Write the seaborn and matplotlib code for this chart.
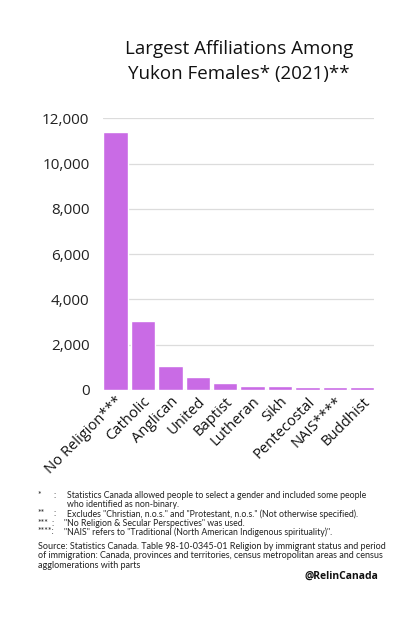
import numpy as np
import pandas as pd
import seaborn as sns
import matplotlib.pyplot as plt
from matplotlib.ticker import FuncFormatter

# data
religions = ["No Religion***", "Catholic", "Anglican", "United", "Baptist",
             "Lutheran", "Sikh", "Pentecostal", "NAIS****", "Buddhist"]
females = [11380, 3045, 1075, 555, 320, 190, 185, 145, 145, 140]

df = pd.DataFrame({"Religion": religions, "Females": females})

sns.set_style("white")
plt.rcParams['font.family'] = ['Open Sans', 'DejaVu Sans']

fig = plt.figure(figsize=(4.15, 6.2), dpi=100)
ax = fig.add_axes([0.249, 0.371, 0.653, 0.438])

sns.barplot(data=df, x="Religion", y="Females", color="#C96BE5",
            width=0.89, saturation=1, ax=ax, zorder=3)

ax.set_ylim(0, 12000)
ax.set_xlim(-0.445, 9.445)
ax.set_yticks(range(0, 12001, 2000))
ax.yaxis.set_major_formatter(FuncFormatter(lambda v, p: f"{int(v):,}"))
ax.grid(axis="y", color="#dcdcdc", linewidth=0.9, zorder=0)
ax.set_axisbelow(True)
for s in ax.spines.values():
    s.set_visible(False)
ax.tick_params(axis="y", length=0, pad=10, labelsize=11, labelcolor="#222222")
ax.tick_params(axis="x", length=0, pad=3, labelsize=10.6, labelcolor="#111111")
plt.setp(ax.get_xticklabels(), rotation=45, ha="right", rotation_mode="anchor")
ax.set_xlabel("")
ax.set_ylabel("")

# title
fig.text(0.575, 1 - 61 / 620, "Largest Affiliations Among\nYukon Females* (2021)**",
         ha="center", va="center", fontsize=13.5, color="#111111",
         linespacing=1.5)

# footnotes
fn = dict(fontsize=6.3, color="#222222", family=["Lato", "DejaVu Sans"], va="center")
marks = ["*", "**", "***", "****:"]
notes = [
    "Statistics Canada allowed people to select a gender and included some people\nwho identified as non-binary.",
    "Excludes \"Christian, n.o.s.\" and \"Protestant, n.o.s.\" (Not otherwise specified).",
    "\"No Religion & Secular Perspectives\" was used.",
    "\"NAIS\" refers to \"Traditional (North American Indigenous spirituality)\".",
]
ys = [496, 514, 523, 532]
for m, n, y in zip(marks, notes, ys):
    fig.text(38 / 415, 1 - y / 620, m, **fn)
    if m == "*" or m == "**":
        fig.text(53 / 415, 1 - y / 620, ":", **fn)
        fig.text(67 / 415, 1 - (y + 4 if "\n" in n else y) / 620, n,
                 linespacing=1.05, **fn)
    elif m == "***":
        fig.text(51 / 415, 1 - y / 620, ":", **fn)
        fig.text(64 / 415, 1 - y / 620, n, **fn)
    else:
        fig.text(64 / 415, 1 - y / 620, n, **fn)

fig.text(38 / 415, 1 - 556 / 620,
         "Source: Statistics Canada. Table 98-10-0345-01 Religion by immigrant status and period\n"
         "of immigration: Canada, provinces and territories, census metropolitan areas and census\n"
         "agglomerations with parts",
         fontsize=6.5, color="#222222", family=["Lato", "DejaVu Sans"],
         va="center", linespacing=1.05)
fig.text(378 / 415, 1 - 576 / 620, "@RelinCanada", ha="right", va="center",
         fontsize=7.5, fontweight="bold", color="#111111")

fig.savefig("out.png", dpi=100)
